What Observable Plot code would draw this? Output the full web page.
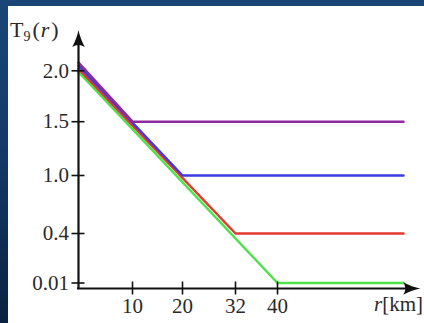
<!DOCTYPE html>
<html><head><meta charset="utf-8">
<script src="https://cdn.jsdelivr.net/npm/d3@7"></script>
<script src="https://cdn.jsdelivr.net/npm/@observablehq/plot@0.6"></script>
<style>
html,body{margin:0;padding:0;width:424px;height:323px;overflow:hidden;}
body{background:linear-gradient(to bottom,#1a4677 0%,#133a68 45%,#0a2240 100%);position:relative;}
#panel{position:absolute;left:8px;top:6px;width:416px;height:317px;background:#ffffff;}
#chart{position:absolute;left:0;top:0;}
</style></head><body>
<div id="panel"></div><div id="chart"></div>
<script>
// Series (one profile per asymptotic temperature)
const seriesNames = ["T9 → 1.5", "T9 → 1.0", "T9 → 0.4", "T9 → 0.01"];
const startT = [2.08, 2.05, 2.02, 1.99];    // T9 at r = 0
const breakR = [10, 20, 32, 40];            // r [km] where the plateau starts
const plateauT = [1.5, 1.0, 0.4, 0.01];     // plateau temperature
const rMax = 64;                            // right end of the curves
const xTicks = [10, 20, 32, 40];
const yTicks = [0.01, 0.4, 1.0, 1.5, 2.0];
const yTickLabels = ["0.01", "0.4", "1.0", "1.5", "2.0"];
const seriesColors = ["#8e2a9e", "#3b3be0", "#e23a30", "#4ee24a"];

// rows (green drawn first, purple last)
const rows = [];
for (let i = seriesNames.length - 1; i >= 0; i--) {
  rows.push({series: seriesNames[i], r: 0, T: startT[i]});
  rows.push({series: seriesNames[i], r: breakR[i], T: plateauT[i]});
  rows.push({series: seriesNames[i], r: rMax, T: plateauT[i]});
}

const arrowHead = {
  draw(ctx) {
    ctx.moveTo(0, 0);
    ctx.quadraticCurveTo(-8, -1.5, -17, -6.3);
    ctx.quadraticCurveTo(-13, 0, -17, 6.3);
    ctx.quadraticCurveTo(-8, 1.5, 0, 0);
    ctx.closePath();
  }
};

const font = "'Liberation Serif', 'DejaVu Serif', serif";
const chart = Plot.plot({
  width: 424, height: 323,
  marginLeft: 78, marginBottom: 35, marginTop: 0, marginRight: 0,
  style: {background: "transparent", fontFamily: font, fontSize: "21px", color: "#2a2a2a", overflow: "visible"},
  x: {type: "linear", domain: [0, 10, 20, 32, 40], range: [78, 132, 182, 235, 277]},
  y: {type: "linear", domain: [0, 0.01, 0.4, 1.0, 1.5, 2.0], range: [288, 282.5, 233, 175, 121.2, 70.3]},
  color: {domain: seriesNames, range: seriesColors},
  marks: [
    Plot.line(rows, {x: "r", y: "T", z: "series", stroke: "series", strokeWidth: 2.5, strokeLinejoin: "miter"}),
    Plot.ruleY([0], {x1: -0.2, x2: 66, stroke: "#111", strokeWidth: 2.2}),
    Plot.ruleX([0], {y1: 0, y2: 2.3, stroke: "#111", strokeWidth: 2.2}),
    Plot.dot([{r: 67.2, T: 0}], {x: "r", y: "T", symbol: arrowHead, fill: "#111", stroke: null, r: 4}),
    Plot.dot([{r: 0, T: 2.4}], {x: "r", y: "T", symbol: arrowHead, rotate: -90, fill: "#111", stroke: null, r: 4}),
    Plot.axisX(xTicks, {anchor: "bottom", tickSize: 13, dy: -6.5, tickPadding: 3, stroke: "#111", strokeWidth: 1.6, label: null, fill: "#2a2a2a"}),
    Plot.axisY(yTicks, {anchor: "left", tickSize: 13, dx: 6.5, tickPadding: 3, stroke: "#111", strokeWidth: 1.6, label: null, fill: "#2a2a2a",
      tickFormat: d => yTickLabels[yTicks.indexOf(d)]})
  ]
});
document.getElementById("chart").appendChild(chart);

const svg = d3.select(chart);
const yl = svg.append("text").attr("x", 10).attr("y", 37).attr("text-anchor", "start")
  .attr("font-family", font).attr("font-size", 22).attr("fill", "#2a2a2a");
yl.append("tspan").text("T");
yl.append("tspan").attr("font-size", 14).attr("dy", 4).text("9");
yl.append("tspan").attr("dy", -4).attr("dx", 2).text("(");
yl.append("tspan").attr("font-style", "italic").attr("dx", 1).text("r");
yl.append("tspan").attr("dx", 2).text(")");

const xl = svg.append("text").attr("x", 423).attr("y", 311).attr("text-anchor", "end")
  .attr("font-family", font).attr("font-size", 21).attr("fill", "#2a2a2a");
xl.append("tspan").attr("font-style", "italic").text("r");
xl.append("tspan").text("[km]");
</script>
</body></html>
